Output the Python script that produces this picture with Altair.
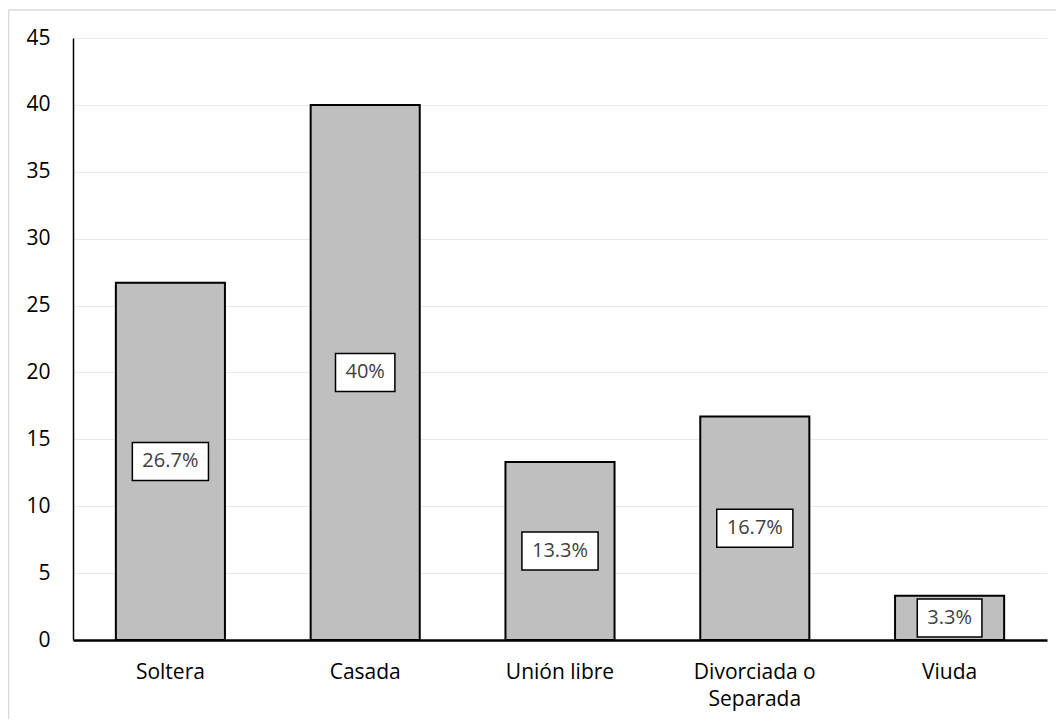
import altair as alt
import pandas as pd

categories = ["Soltera", "Casada", "Unión libre", "Divorciada o Separada", "Viuda"]
values = [26.7, 40, 13.3, 16.7, 3.3]
y_ticks = [0, 5, 10, 15, 20, 25, 30, 35, 40, 45]

df = pd.DataFrame({"cat": categories, "value": values})

FONT = "Open Sans"

base = alt.Chart(df).transform_calculate(
    mid="datum.value / 2",
    label="toString(datum.value) + '%'",
).transform_calculate(
    dots="indexof(datum.label, '.') >= 0 ? 1 : 0"
).transform_calculate(
    boxw="20 + 16.5 + 5.3 * datum.dots + 11.44 * (length(datum.label) - 1 - datum.dots)"
)

x_enc = alt.X(
    "cat:N",
    sort=categories,
    title=None,
    scale=alt.Scale(paddingInner=0.44, paddingOuter=0.22),
    axis=alt.Axis(
        labelAngle=0,
        labelFont=FONT,
        labelFontSize=21,
        labelColor="#000000",
        labelPadding=21,
        labelLineHeight=27,
        labelExpr="datum.label == 'Divorciada o Separada' ? ['Divorciada o', 'Separada'] : datum.label",
        ticks=False,
        domainColor="#000000",
        domainWidth=2.5,
        grid=False,
    ),
)

bars = base.mark_bar(fill="#BFBFBF", stroke="#000000", strokeWidth=2).encode(
    x=x_enc,
    y=alt.Y(
        "value:Q",
        title=None,
        scale=alt.Scale(domain=[0, 45], nice=False),
        axis=alt.Axis(
            values=y_ticks,
            labelFont=FONT,
            labelFontSize=21,
            labelColor="#000000",
            labelPadding=23,
            ticks=False,
            domainColor="#000000",
            domainWidth=1.5,
            gridColor="#E9E9E9",
            gridWidth=1.2,
        ),
    ),
)

boxes = base.mark_bar(
    fill="#FFFFFF", stroke="#000000", strokeWidth=1.5, yOffset=-19, y2Offset=19
).encode(
    x=alt.X("cat:N", sort=categories),
    y=alt.Y("mid:Q"),
    y2=alt.Y2("mid:Q"),
    size=alt.Size("boxw:Q", scale=None),
)

labels = base.mark_text(
    font=FONT, fontSize=20, color="#404040", baseline="middle", align="center"
).encode(
    x=alt.X("cat:N", sort=categories),
    y=alt.Y("mid:Q"),
    text="label:N",
)

frame_data = alt.Data(values=[{"k": 1}])
left_border = alt.Chart(frame_data).mark_rule(color="#D9D9D9", strokeWidth=1.5).encode(
    x=alt.value(-64.5), y=alt.value(-28), y2=alt.value(700)
)
top_border = alt.Chart(frame_data).mark_rule(color="#D9D9D9", strokeWidth=1.5).encode(
    x=alt.value(-64.5), x2=alt.value(1000), y=alt.value(-28)
)

chart = alt.layer(left_border, top_border, bars, boxes, labels).properties(
    width=974,
    height=602,
    autosize=alt.AutoSizeParams(type="none"),
    padding={"left": 65, "top": 30, "right": 9, "bottom": 79},
).configure_view(strokeWidth=0)

chart.save("out.html", embed_options={"renderer": "svg", "actions": False})
